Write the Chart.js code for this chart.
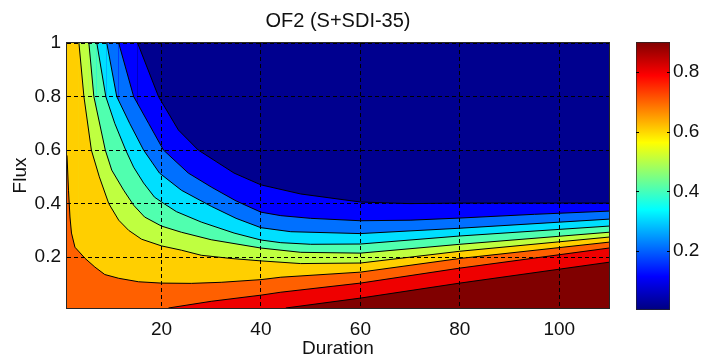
<!DOCTYPE html>
<html>
<head>
<meta charset="utf-8">
<script src="https://cdn.jsdelivr.net/npm/chart.js@4.4.1/dist/chart.umd.min.js"></script>
<style>
  body { margin: 0; background: #fff; overflow: hidden; }
  #wrap { position: relative; width: 702px; height: 360px; }
  #wrap canvas { position: absolute; top: 0; }
</style>
</head>
<body>
<div id="wrap">
  <canvas id="contour" width="702" height="360" style="left:0"></canvas>
  <canvas id="colorbar" width="102" height="360" style="left:600px"></canvas>
</div>
<script>
// axes
const durationRange = [1, 110];
const fluxRange = [0.01, 1];
const durationTicks = [20, 40, 60, 80, 100];
const fluxTicks = [0.2, 0.4, 0.6, 0.8, 1];
const colorbarRange = [0.003, 0.9];
const colorbarTicks = [0.2, 0.4, 0.6, 0.8];

// contour lines, [duration, flux], lowest level first
const boundary1 = [[15.2, 1], [19.4, 0.80], [23.4, 0.675], [27.4, 0.60], [34.6, 0.514], [40, 0.47], [48, 0.436], [60, 0.406], [70, 0.40], [80, 0.402], [110, 0.402]];
const boundary2 = [[11.4, 1], [14.4, 0.80], [17.4, 0.70], [20.4, 0.60], [25.4, 0.514], [30, 0.462], [35, 0.41], [40, 0.368], [44, 0.355], [50, 0.345], [60, 0.336], [70, 0.338], [80, 0.346], [95, 0.36], [110, 0.372]];
const boundary3 = [[9, 1], [11, 0.80], [13.6, 0.70], [16.4, 0.60], [19.6, 0.514], [24, 0.45], [30, 0.39], [35, 0.345], [40, 0.31], [46, 0.295], [60, 0.288], [80, 0.308], [110, 0.342]];
const boundary4 = [[7, 1], [8.8, 0.8], [10.6, 0.7], [12.8, 0.6], [14.4, 0.536], [16.4, 0.477], [18.6, 0.424], [20.5, 0.40], [23, 0.37], [28, 0.331], [34.6, 0.29], [40, 0.264], [44, 0.254], [50, 0.248], [60, 0.249], [80, 0.279], [110, 0.316]];
const boundary5 = [[5.4, 1], [6.4, 0.8], [8.7, 0.6], [10, 0.525], [12.4, 0.45], [14.4, 0.394], [16.6, 0.35], [20, 0.316], [24, 0.293], [30, 0.265], [40, 0.234], [48, 0.218], [60, 0.215], [80, 0.248], [110, 0.293]];
const boundary6 = [[3.4, 1], [4.4, 0.8], [5.9, 0.6], [7.5, 0.5], [9.4, 0.40], [11.4, 0.338], [13.4, 0.30], [16, 0.267], [20, 0.242], [24, 0.226], [28, 0.207], [34, 0.195], [40, 0.186], [48, 0.176], [60, 0.178], [80, 0.222], [110, 0.275]];
const boundary7 = [[1, 0.58], [1.3, 0.45], [1.6, 0.35], [1.9, 0.29], [2.6, 0.237], [4.6, 0.196], [6.6, 0.163], [8.6, 0.135], [11.4, 0.121], [15.4, 0.108], [20, 0.103], [26, 0.102], [32, 0.106], [40, 0.116], [44, 0.125], [60, 0.144], [80, 0.195], [110, 0.256]];
const boundary8 = [[21.4, 0.01], [30, 0.035], [40, 0.058], [44, 0.069], [60, 0.103], [80, 0.159], [110, 0.234]];
const boundary9 = [[45, 0.01], [60, 0.047], [80, 0.103], [110, 0.181]];

const boundaries = [boundary1, boundary2, boundary3, boundary4, boundary5, boundary6, boundary7, boundary8, boundary9];

// jet colours of the filled bands, top band first
const bandColors = ['#00008f', '#0000ff', '#0070ff', '#00dfff', '#50ffaf', '#bfff40', '#ffcf00', '#ff6000', '#ef0000', '#800000'];
const jetStops = [[0, '#000080'], [0.125, '#0000ff'], [0.375, '#00ffff'], [0.625, '#ffff00'], [0.875, '#ff0000'], [1, '#800000']];

const family = "'Liberation Sans', Arial, sans-serif";
const font = { family, size: 19 };
const textColor = '#111';

const datasets = boundaries.map((pts, i) => {
  const data = pts.map(([x, y]) => ({ x, y }));
  // curves leaving through the top edge: close the band along that edge
  const extended = pts[0][1] >= fluxRange[1];
  if (extended) data.unshift({ x: durationRange[0], y: fluxRange[1] });
  return {
    data,
    fill: 'start',
    backgroundColor: bandColors[i + 1],
    borderColor: '#000',
    borderWidth: 1,
    pointRadius: 0,
    tension: 0,
    clip: 0,
    order: boundaries.length - i,
    segment: {
      borderColor: c => (extended && c.p0DataIndex === 0) ? 'rgba(0,0,0,0)' : '#000',
    },
  };
});

const plotFrame = {
  id: 'plotFrame',
  beforeDatasetsDraw(chart) {
    const { ctx, chartArea: a } = chart;
    ctx.save();
    ctx.fillStyle = bandColors[0];
    ctx.fillRect(a.left, a.top, a.right - a.left, a.bottom - a.top);
    ctx.restore();
  },
  afterDraw(chart) {
    const { ctx, chartArea: a } = chart;
    ctx.save();
    ctx.strokeStyle = '#262626';
    ctx.lineWidth = 1;
    ctx.strokeRect(Math.round(a.left) - 0.5, Math.round(a.top) - 0.5, Math.round(a.right - a.left) + 1, Math.round(a.bottom - a.top) + 1);
    ctx.restore();
  },
};

new Chart('contour', {
  type: 'line',
  data: { datasets },
  options: {
    responsive: false,
    animation: false,
    events: [],
    layout: { padding: { left: 0, right: 93, top: 0, bottom: 0 } },
    plugins: {
      legend: { display: false },
      tooltip: { enabled: false },
      title: {
        display: true,
        text: 'OF2 (S+SDI-35)',
        fullSize: false,
        color: textColor,
        font: { family, size: 20, weight: 'normal' },
        padding: { top: 9, bottom: 10 },
      },
    },
    scales: {
      x: {
        type: 'linear',
        min: durationRange[0],
        max: durationRange[1],
        afterBuildTicks: s => { s.ticks = durationTicks.map(v => ({ value: v })); },
        afterFit: s => { s.height = 52; },
        grid: { color: '#000', lineWidth: 1, drawTicks: false, z: 1 },
        border: { display: false, dash: [4, 3] },
        ticks: { font, color: textColor, padding: 10, maxRotation: 0 },
        title: { display: true, text: 'Duration', font, color: textColor, padding: 0 },
      },
      y: {
        type: 'linear',
        min: fluxRange[0],
        max: fluxRange[1],
        afterBuildTicks: s => { s.ticks = fluxTicks.map(v => ({ value: v })); },
        afterFit: s => { s.width = 67; },
        grid: { color: '#000', lineWidth: 1, drawTicks: false, z: 1 },
        border: { display: false, dash: [4, 3] },
        ticks: { font, color: textColor, padding: 6, callback: v => String(v) },
        title: { display: true, text: 'Flux', font, color: textColor, padding: { top: 9, bottom: 0 } },
      },
    },
  },
  plugins: [plotFrame],
});

function jetGradient(c) {
  const chart = c.chart;
  if (!chart.chartArea) return bandColors[0];
  const y = chart.scales.y;
  const g = chart.ctx.createLinearGradient(0, y.getPixelForValue(colorbarRange[0]), 0, y.getPixelForValue(colorbarRange[1]));
  jetStops.forEach(([t, col]) => g.addColorStop(t, col));
  return g;
}

// short inward tick marks on both edges of the colour bar
const barTicks = {
  id: 'barTicks',
  afterDatasetsDraw(chart) {
    const { ctx, chartArea: a, scales: { y } } = chart;
    ctx.save();
    ctx.strokeStyle = '#000';
    ctx.lineWidth = 1;
    ctx.beginPath();
    y.ticks.forEach(t => {
      const py = Math.round(y.getPixelForValue(t.value)) + 0.5;
      ctx.moveTo(a.left, py); ctx.lineTo(a.left + 3, py);
      ctx.moveTo(a.right - 3, py); ctx.lineTo(a.right, py);
    });
    ctx.stroke();
    ctx.restore();
  },
};

new Chart('colorbar', {
  type: 'bar',
  data: {
    labels: ['colour'],
    datasets: [{
      data: [colorbarRange],
      backgroundColor: jetGradient,
      borderColor: '#262626',
      borderWidth: 1,
      borderSkipped: false,
      barPercentage: 1,
      categoryPercentage: 1,
    }],
  },
  options: {
    responsive: false,
    animation: false,
    events: [],
    layout: { padding: { left: 36, top: 42, bottom: 50, right: 0 } },
    plugins: { legend: { display: false }, tooltip: { enabled: false } },
    scales: {
      x: { display: false },
      y: {
        position: 'right',
        min: colorbarRange[0],
        max: colorbarRange[1],
        afterBuildTicks: s => { s.ticks = colorbarTicks.map(v => ({ value: v })); },
        afterFit: s => { s.width = 32; },
        grid: { display: false, drawTicks: false },
        border: { display: false },
        ticks: { font, color: textColor, padding: 3, callback: v => String(v) },
      },
    },
  },
  plugins: [barTicks],
});
</script>
</body>
</html>
